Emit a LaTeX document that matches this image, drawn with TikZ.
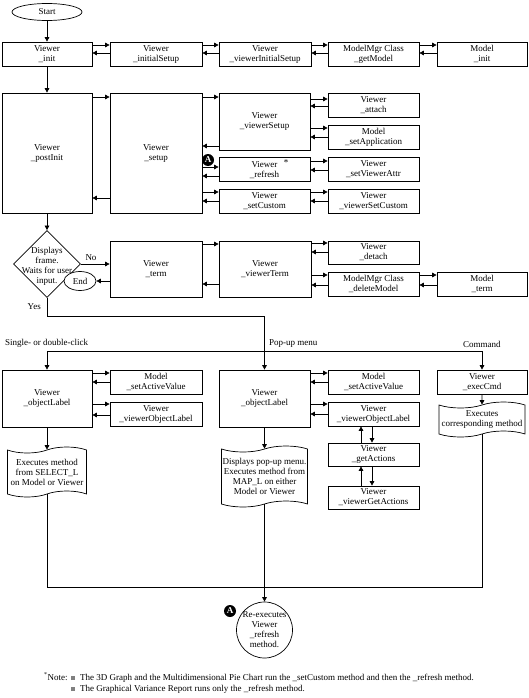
\documentclass[tikz,border=0pt]{standalone}
\usepackage{fontspec}
\setmainfont{Liberation Serif}
\usetikzlibrary{shapes.geometric,shapes.symbols,arrows.meta}
\newcommand\bx[6]{\node[box, minimum width={#4-#2}, minimum height={#5-#3}] (#1) at ({(#2+#4)/2},{(#3+#5)/2}) {#6};}
\newcommand\pr[4]{\draw[arr] (#1.east |- 0,#3) -- (#2.west |- 0,#3); \draw[arr] (#2.west |- 0,#4) -- (#1.east |- 0,#4);}
\begin{document}
\begin{tikzpicture}[x=1pt,y=-1pt,
  every node/.style={font=\fontsize{9}{10}\selectfont},
  box/.style={draw, line width=0.7pt, align=center, inner sep=0pt},
  doc/.style={draw, tape, line width=0.7pt, align=center, inner xsep=0pt, inner ysep=1pt, tape bend height=6pt},
  arr/.style={line width=0.7pt, -{Triangle[length=4.5pt,width=4.5pt]}},
  ln/.style={line width=0.7pt},
  amark/.style={circle, fill=black, text=white, inner sep=0pt, minimum size=12pt, font=\fontsize{9}{9}\selectfont\bfseries},
  lbl/.style={inner sep=0pt}
]
\useasboundingbox (0,0) rectangle (529,698);
\fill[white] (0,0) rectangle (529,698);

% row 1
\node[ellipse, draw, ln, minimum width=70, minimum height=17, inner sep=0pt] (start) at (47,12) {Start};
\bx{init}{2}{42}{92}{66}{Viewer\\\_init}
\bx{iset}{110}{42}{202}{66}{Viewer\\\_initialSetup}
\bx{viset}{219}{42}{311}{66}{Viewer\\\_viewerInitialSetup}
\bx{getm}{328}{42}{419}{66}{ModelMgr Class\\\_getModel}
\bx{minit}{437}{42}{527}{66}{Model\\\_init}

% row 2
\bx{post}{2}{93}{92}{213}{Viewer\\\_postInit}
\bx{setup}{110}{93}{202}{213}{Viewer\\\_setup}
\bx{vsetup}{219}{93}{310}{150}{Viewer\\\_viewerSetup}
\bx{attach}{328}{93}{419}{117}{Viewer\\\_attach}
\bx{setapp}{328}{125}{419}{149}{Model\\\_setApplication}
\bx{refresh}{219}{157}{310}{181}{Viewer\rlap{\hspace{0.7em}\raisebox{2pt}{*}}\\\_refresh}
\bx{setva}{328}{157}{419}{181}{Viewer\\\_setViewerAttr}
\bx{setcust}{219}{189}{310}{213}{Viewer\\\_setCustom}
\bx{vsetcust}{328}{189}{419}{213}{Viewer\\\_viewerSetCustom}
\node[amark] (a1) at (208,160) {A};

% decision row
\node[diamond, draw, ln, aspect=1, minimum width=67, minimum height=67, inner sep=0pt,
  label={[align=center, inner sep=0pt, yshift=-2pt]center:Displays\\frame.\\Waits for user\\input.}] (dec) at (47,264) {};
\bx{term}{110}{241}{202}{297}{Viewer\\\_term}
\bx{vterm}{219}{241}{311}{297}{Viewer\\\_viewerTerm}
\bx{detach}{328}{241}{419}{264}{Viewer\\\_detach}
\bx{delm}{328}{272}{419}{296}{ModelMgr Class\\\_deleteModel}
\bx{mterm}{437}{272}{527}{296}{Model\\\_term}
\node[ellipse, draw, ln, fill=white, minimum width=32, minimum height=19, inner sep=0pt] (end) at (80,281) {End};

% row 3
\bx{obj1}{2}{370}{92}{427}{Viewer\\\_objectLabel}
\bx{sav1}{110}{370}{202}{394}{Model\\\_setActiveValue}
\bx{vol1}{110}{402}{202}{426}{Viewer\\\_viewerObjectLabel}
\bx{obj2}{219}{370}{310}{427}{Viewer\\\_objectLabel}
\bx{sav2}{328}{370}{419}{394}{Model\\\_setActiveValue}
\bx{vol2}{328}{402}{419}{426}{Viewer\\\_viewerObjectLabel}
\bx{geta}{328}{443}{419}{466}{Viewer\\\_getActions}
\bx{vgeta}{328}{486}{419}{509}{Viewer\\\_viewerGetActions}
\bx{exec}{437}{370}{527}{394}{Viewer\\\_execCmd}

\node[doc, minimum width=79, minimum height=50] (doc1) at (47,472) {Executes method\\from SELECT\_L\\on Model or Viewer};
\node[doc, minimum width=86, minimum height=61] (doc2) at (264.5,476.5) {Displays pop-up menu.\\Executes method from\\MAP\_L on either\\Model or Viewer};
\node[doc, minimum width=86, minimum height=35] (doc3) at (482,419.5) {Executes\\corresponding method};

\node[circle, draw, ln, minimum size=56, inner sep=0pt,
  label={[align=center, inner sep=0pt]center:Re-executes\\Viewer\\\_refresh\\method.}] (re) at (264.5,630) {};
\node[amark] (a2) at (230,611) {A};

% labels
\node[lbl, anchor=south] (no) at (91,261) {No};
\node[lbl, anchor=east] (yes) at (41,307) {Yes};
\node[lbl, anchor=south west] (l1) at (5,348) {Single- or double-click};
\node[lbl, anchor=south west] (l2) at (269,348) {Pop-up menu};
\node[lbl, anchor=south west] (l3) at (463,348) {Command};

% connectors row 1
\draw[arr] (start) -- (init);
\pr{init}{iset}{45}{53}
\pr{iset}{viset}{45}{53}
\pr{viset}{getm}{45}{53}
\pr{getm}{minit}{45}{53}
\draw[arr] (init) -- (post);

% connectors row 2
\pr{post}{setup}{97}{198}
\pr{setup}{vsetup}{97}{146}
\pr{vsetup}{attach}{99}{106}
\pr{vsetup}{setapp}{128}{137}
\pr{setup}{refresh}{167}{176}
\pr{refresh}{setva}{161}{170}
\pr{setup}{setcust}{192}{201}
\pr{setcust}{vsetcust}{192}{201}
\draw[arr] (post) -- (dec);

% decision
\draw[arr] (dec.east) -- (term.west |- dec.east);
\draw[arr] (term.west |- end.east) -- (end.east);
\pr{term}{vterm}{244}{284}
\pr{vterm}{detach}{243}{252}
\pr{vterm}{delm}{275}{285}
\pr{delm}{mterm}{275}{285}

\coordinate (yj) at (obj2.north |- 0,316);
\coordinate (br) at (obj2.north |- 0,351);
\draw[ln] (dec.south) |- (yj) -- (br);
\draw[arr] (br) -- (obj2.north);
\draw[arr] (br) -| (obj1.north);
\draw[arr] (br) -| (exec.north);

% row 3 connectors
\pr{obj1}{sav1}{373}{382}
\pr{obj1}{vol1}{404}{415}
\pr{obj2}{sav2}{373}{382}
\pr{obj2}{vol2}{404}{414}
\draw[arr] (geta.north -| 361,0) -- (vol2.south -| 361,0);
\draw[arr] (vol2.south -| 372,0) -- (geta.north -| 372,0);
\draw[arr] (vgeta.north -| 361,0) -- (geta.south -| 361,0);
\draw[arr] (geta.south -| 372,0) -- (vgeta.north -| 372,0);
\draw[arr] (obj1) -- (doc1);
\draw[arr] (obj2) -- (doc2);
\draw[arr] (exec) -- (doc3);

\coordinate (mj) at (doc2.south |- 0,587);
\draw[ln] (doc1.south) |- (mj);
\draw[ln] (doc3.south) |- (mj);
\draw[arr] (doc2.south) -- (re.north);

% footnote
\node[lbl, anchor=base west] (note) at (44,680) {\textsuperscript{*}Note:};
\node[lbl, anchor=base west] (n1) at (71,680) {\textcolor{gray}{\rule{4pt}{4pt}}\hspace{5pt}The 3D Graph and the Multidimensional Pie Chart run the \_setCustom method and then the \_refresh method.};
\node[lbl, anchor=base west] (n2) at (71,691) {\textcolor{gray}{\rule{4pt}{4pt}}\hspace{5pt}The Graphical Variance Report runs only the \_refresh method.};
\end{tikzpicture}
\end{document}
